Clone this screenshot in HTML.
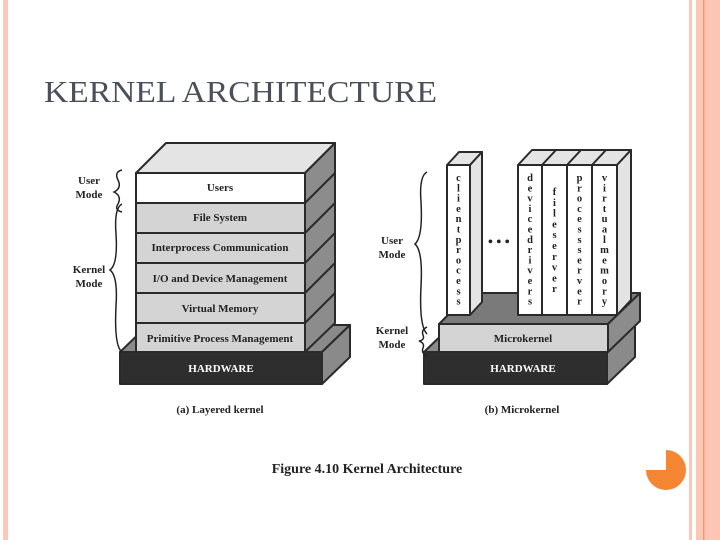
<!DOCTYPE html>
<html><head><meta charset="utf-8"><style>
html,body{margin:0;padding:0;background:#fff;width:720px;height:540px;overflow:hidden}
</style></head><body>
<svg width="720" height="540" xmlns="http://www.w3.org/2000/svg" font-family="Liberation Serif, serif">
<rect x="3" y="0" width="5" height="540" fill="#f8c9b8"/>
<rect x="689" y="0" width="3" height="540" fill="#f8c9b8"/>
<rect x="696" y="0" width="24" height="540" fill="#fcc6b2"/>
<rect x="703" y="0" width="1.5" height="540" fill="#e99a7a"/>
<path d="M666,450 A20,20 0 1 1 646,470 L666,470 Z" fill="#f58634"/>
<text x="44" y="102" font-size="31" fill="#4a4f5a" textLength="393" lengthAdjust="spacingAndGlyphs">KERNEL ARCHITECTURE</text>

<g stroke="#2a2a2a" stroke-width="2" stroke-linejoin="round">
<polygon points="120,352 148,325 350,325 322,352" fill="#8a8a8a"/>
<polygon points="322,352 350,325 350,357 322,384" fill="#8a8a8a"/>
<rect x="120" y="352" width="202" height="32" fill="#2e2e2e"/>
<polygon points="136,173 166,143 335,143 305,173" fill="#e4e4e4"/>
<polygon points="305,173 335,143 335,323 305,352" fill="#8c8c8c"/>
<line x1="305" y1="203" x2="335" y2="173"/><line x1="305" y1="233" x2="335" y2="203"/>
<line x1="305" y1="263" x2="335" y2="233"/><line x1="305" y1="293" x2="335" y2="263"/>
<line x1="305" y1="323" x2="335" y2="293"/>
<rect x="136" y="173" width="169" height="30" fill="#fff"/>
<rect x="136" y="203" width="169" height="30" fill="#d4d4d4"/>
<rect x="136" y="233" width="169" height="30" fill="#d4d4d4"/>
<rect x="136" y="263" width="169" height="30" fill="#d4d4d4"/>
<rect x="136" y="293" width="169" height="30" fill="#d4d4d4"/>
<rect x="136" y="323" width="169" height="29" fill="#d4d4d4"/>

<polygon points="424,352 452,325 635,325 607,352" fill="#8a8a8a"/>
<polygon points="607,352 635,325 635,357 607,384" fill="#8a8a8a"/>
<rect x="424" y="352" width="183" height="32" fill="#2e2e2e"/>
<polygon points="439,324 470,293 640,293 608,324" fill="#7a7a7a"/>
<polygon points="608,324 640,293 640,321 608,352" fill="#8c8c8c"/>
<rect x="439" y="324" width="169" height="28" fill="#d4d4d4"/>
<polygon points="447,165 459,152 482,152 470,165" fill="#e4e4e4"/>
<polygon points="470,165 482,152 482,302 470,315" fill="#e4e4e4"/>
<rect x="447" y="165" width="23" height="150" fill="#fff"/>
<polygon points="518,165 532,150 631,150 617,165" fill="#e4e4e4"/>
<line x1="542" y1="165" x2="556" y2="150"/><line x1="567" y1="165" x2="581" y2="150"/><line x1="592" y1="165" x2="606" y2="150"/>
<polygon points="617,165 631,150 631,300 617,315" fill="#e4e4e4"/>
<rect x="518" y="165" width="24" height="150" fill="#fff"/>
<rect x="542" y="165" width="25" height="150" fill="#fff"/>
<rect x="567" y="165" width="25" height="150" fill="#fff"/>
<rect x="592" y="165" width="25" height="150" fill="#fff"/>
</g>

<g fill="none" stroke="#222" stroke-width="1.5">
<path d="M122,170 q-8,2 -4,10 q4,8 -4,12 q8,4 4,12 q-4,6 4,8"/>
<path d="M122,204 q-8,4 -6,30 q2,30 -6,36 q8,6 6,36 q-2,40 6,46"/>
<path d="M427,172 q-8,4 -6,30 q2,35 -6,42 q8,7 6,42 q-2,40 6,48"/>
<path d="M427,327 q-6,3 -4,8 q2,5 -4,6 q6,2 4,7 q-2,5 4,8"/>
</g>

<g font-weight="bold" font-size="11" fill="#222" text-anchor="middle">
<text x="220" y="191">Users</text>
<text x="220" y="221">File System</text>
<text x="220" y="251">Interprocess Communication</text>
<text x="220" y="282">I/O and Device Management</text>
<text x="220" y="312">Virtual Memory</text>
<text x="220" y="342">Primitive Process Management</text>
<text x="523" y="342">Microkernel</text>
<text x="89" y="184">User</text><text x="89" y="198">Mode</text>
<text x="89" y="273">Kernel</text><text x="89" y="287">Mode</text>
<text x="392" y="244">User</text><text x="392" y="258">Mode</text>
<text x="392" y="334">Kernel</text><text x="392" y="348">Mode</text>
<text x="220" y="413">(a) Layered kernel</text>
<text x="522" y="413">(b) Microkernel</text>
<text x="367" y="473" font-size="14">Figure 4.10   Kernel Architecture</text>
</g>
<g font-weight="bold" font-size="11" fill="#fff" text-anchor="middle">
<text x="221" y="372">HARDWARE</text>
<text x="523" y="372">HARDWARE</text>
</g>
<text x="488" y="246" font-size="14" font-weight="bold" fill="#222">• • •</text>

<g font-weight="bold" font-size="10.5" fill="#222" text-anchor="middle">
<text x="458.5" y="181"><tspan x="458.5" dy="0">c</tspan><tspan x="458.5" dy="10.3">l</tspan><tspan x="458.5" dy="10.3">i</tspan><tspan x="458.5" dy="10.3">e</tspan><tspan x="458.5" dy="10.3">n</tspan><tspan x="458.5" dy="10.3">t</tspan><tspan x="458.5" dy="10.3">p</tspan><tspan x="458.5" dy="10.3">r</tspan><tspan x="458.5" dy="10.3">o</tspan><tspan x="458.5" dy="10.3">c</tspan><tspan x="458.5" dy="10.3">e</tspan><tspan x="458.5" dy="10.3">s</tspan><tspan x="458.5" dy="10.3">s</tspan></text>
<text x="530" y="181"><tspan x="530" dy="0">d</tspan><tspan x="530" dy="10.3">e</tspan><tspan x="530" dy="10.3">v</tspan><tspan x="530" dy="10.3">i</tspan><tspan x="530" dy="10.3">c</tspan><tspan x="530" dy="10.3">e</tspan><tspan x="530" dy="10.3">d</tspan><tspan x="530" dy="10.3">r</tspan><tspan x="530" dy="10.3">i</tspan><tspan x="530" dy="10.3">v</tspan><tspan x="530" dy="10.3">e</tspan><tspan x="530" dy="10.3">r</tspan><tspan x="530" dy="10.3">s</tspan></text>
<text x="554.5" y="195"><tspan x="554.5" dy="0">f</tspan><tspan x="554.5" dy="10.8">i</tspan><tspan x="554.5" dy="10.8">l</tspan><tspan x="554.5" dy="10.8">e</tspan><tspan x="554.5" dy="10.8">s</tspan><tspan x="554.5" dy="10.8">e</tspan><tspan x="554.5" dy="10.8">r</tspan><tspan x="554.5" dy="10.8">v</tspan><tspan x="554.5" dy="10.8">e</tspan><tspan x="554.5" dy="10.8">r</tspan></text>
<text x="579.5" y="181"><tspan x="579.5" dy="0">p</tspan><tspan x="579.5" dy="10.3">r</tspan><tspan x="579.5" dy="10.3">o</tspan><tspan x="579.5" dy="10.3">c</tspan><tspan x="579.5" dy="10.3">e</tspan><tspan x="579.5" dy="10.3">s</tspan><tspan x="579.5" dy="10.3">s</tspan><tspan x="579.5" dy="10.3">s</tspan><tspan x="579.5" dy="10.3">e</tspan><tspan x="579.5" dy="10.3">r</tspan><tspan x="579.5" dy="10.3">v</tspan><tspan x="579.5" dy="10.3">e</tspan><tspan x="579.5" dy="10.3">r</tspan></text>
<text x="604.5" y="181"><tspan x="604.5" dy="0">v</tspan><tspan x="604.5" dy="10.3">i</tspan><tspan x="604.5" dy="10.3">r</tspan><tspan x="604.5" dy="10.3">t</tspan><tspan x="604.5" dy="10.3">u</tspan><tspan x="604.5" dy="10.3">a</tspan><tspan x="604.5" dy="10.3">l</tspan><tspan x="604.5" dy="10.3">m</tspan><tspan x="604.5" dy="10.3">e</tspan><tspan x="604.5" dy="10.3">m</tspan><tspan x="604.5" dy="10.3">o</tspan><tspan x="604.5" dy="10.3">r</tspan><tspan x="604.5" dy="10.3">y</tspan></text>
</g>
</svg>
</body></html>
